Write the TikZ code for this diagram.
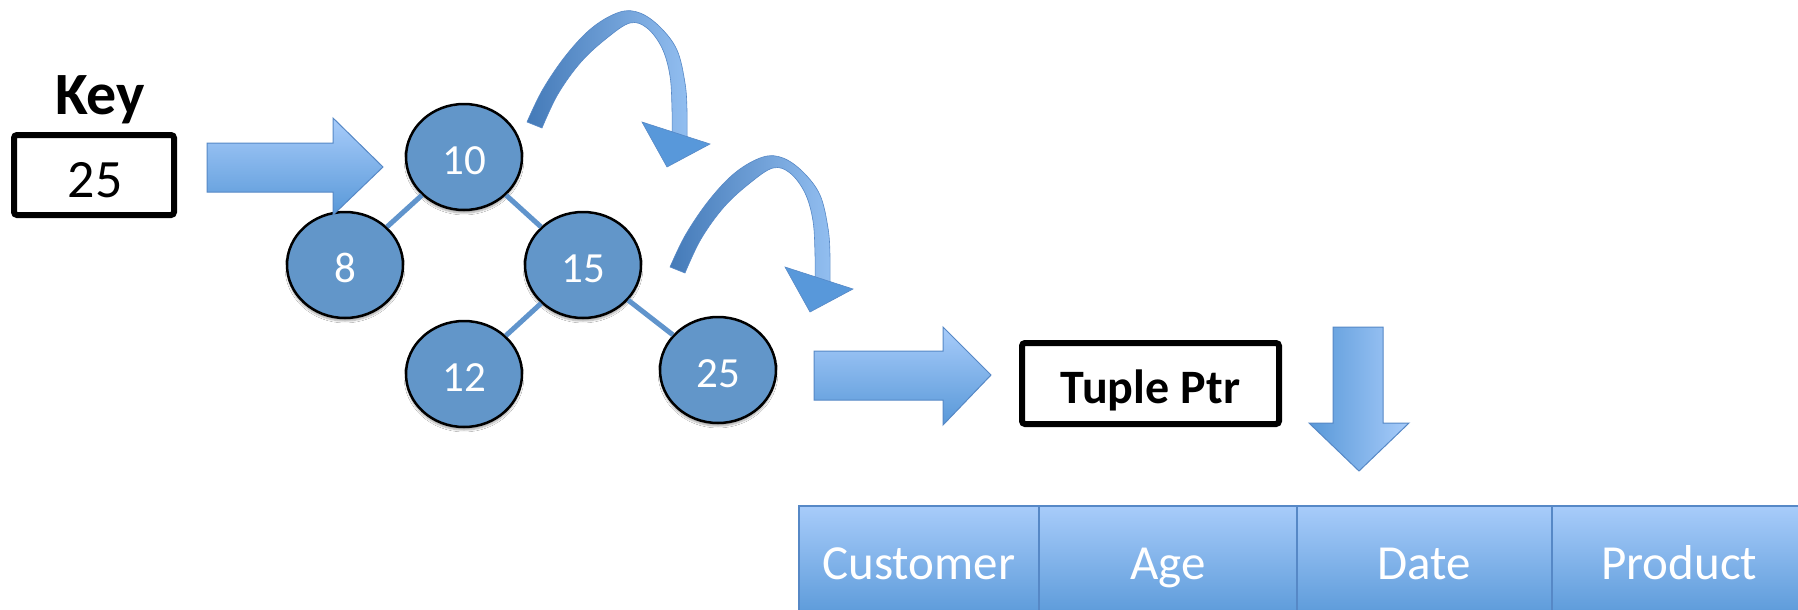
\documentclass[tikz,border=0pt]{standalone}
\usepackage{fontspec}
\setmainfont{Carlito}
\usetikzlibrary{shapes.geometric,shadows.blur}

\definecolor{nodeblue}{RGB}{98,150,201}
\definecolor{edgeblue}{RGB}{96,148,204}
\definecolor{lightblue}{RGB}{168,204,250}
\definecolor{darkblue}{RGB}{88,152,216}
\definecolor{rimblue}{RGB}{86,136,198}
\definecolor{hopdark}{RGB}{68,122,184}
\definecolor{hoplight}{RGB}{146,190,240}
\definecolor{hophead}{RGB}{88,152,218}

\tikzset{
  treenode/.style={ellipse, draw=black, line width=2.5, fill=nodeblue,
    minimum width=116, minimum height=106, inner sep=0, text=white,
    font=\fontsize{43}{43}\selectfont, text height=27, text depth=0,
    blur shadow={shadow xshift=0pt, shadow yshift=-3pt, shadow blur steps=6, shadow opacity=35}},
  treeedge/.style={draw=edgeblue, line width=5},
  framebox/.style={draw=black, line width=6, rounded corners=3, fill=white, inner sep=0},
  blockarrow/.style={draw=rimblue, line width=1},
  cell/.style={rectangle, draw=rimblue, line width=1.5, top color=lightblue,
    bottom color=darkblue, anchor=north west, minimum height=115, inner sep=0,
    text=white, font=\fontsize{49}{49}\selectfont, text height=31.5, text depth=0},
  hopbody/.style={left color=hopdark, right color=hoplight, draw=rimblue, line width=0.6},
  hophead/.style={fill=hophead, draw=rimblue, line width=0.6}
}

% tree keys sit a little below the middle of their ellipse
\newcommand\treekey[1]{\raisebox{-4pt}{#1}}

% curved "hop" arrow between neighbouring tree levels
\newcommand\hoparrow{%
  \path[hopbody]
    plot[smooth, tension=0.6] coordinates {(527,122) (543,89) (567,54) (593,27) (620,12) (640,13) (660,27) (677,50) (685,83) (687,110) (687,139)}
    -- plot[smooth, tension=0.6] coordinates {(672,133) (672,110) (670,76) (662,48) (647,28) (630,23) (607,38) (581,62) (558,94) (542,128)}
    -- cycle;
  \path[hophead] (642,122) -- (710,144) -- (667,167) -- cycle;
}

\begin{document}
\begin{tikzpicture}[x=1pt, y=-1pt]
\clip (0,0) rectangle (1798,610);
\fill[white] (0,0) rectangle (1798,610);

% search key
\node[font=\bfseries\fontsize{60}{60}\selectfont, anchor=base] (keylabel) at (100,114) {Key};
\node[framebox, minimum width=160, minimum height=80] (keybox) at (94,175) {};
\node[font=\fontsize{54}{54}\selectfont, anchor=base] (keyval) at ([xshift=1pt, yshift=-22pt]keybox.center) {25};

% binary search tree
\node[treenode] (n10) at (464,157) {\treekey{10}};
\node[treenode] (n8)  at (345,265) {\treekey{8}};
\node[treenode] (n15) at (583,265) {\treekey{15}};
\node[treenode] (n12) at (464,374) {\treekey{12}};
\node[treenode] (n25) at (718,370) {\treekey{25}};
\draw[treeedge] (n10) -- (n8);
\draw[treeedge] (n10) -- (n15);
\draw[treeedge] (n15) -- (n12);
\draw[treeedge] (n15) -- (n25);

% key enters the tree
\path[blockarrow, top color=lightblue, bottom color=darkblue]
  (207,143) -- (333,143) -- (333,118) -- (383,167) -- (333,215) -- (333,192) -- (207,192) -- cycle;

% traversal hops
\hoparrow
\begin{scope}[shift={(143,145)}]
  \hoparrow
\end{scope}

% found leaf points to the tuple
\path[blockarrow, top color=lightblue, bottom color=darkblue]
  (814,351) -- (943,351) -- (943,327) -- (991,375) -- (943,425) -- (943,400) -- (814,400) -- cycle;

\node[framebox, minimum width=257, minimum height=81] (tptr) at (1150.5,383.5) {};
\node[font=\bfseries\fontsize{48}{48}\selectfont, anchor=base] (tptrlabel) at ([yshift=-19.5pt]tptr.center) {Tuple Ptr};

\path[blockarrow, left color=darkblue, right color=lightblue]
  (1333,327) -- (1383,327) -- (1383,423) -- (1409,423) -- (1359,471) -- (1309,423) -- (1333,423) -- cycle;

% tuple record
\node[cell, minimum width=240] (c1) at (798,505) {Customer};
\node[cell, minimum width=258] (c2) at (1038,505) {Age};
\node[cell, minimum width=255] (c3) at (1296,505) {Date};
\node[cell, minimum width=255] (c4) at (1551,505) {Product};
\end{tikzpicture}
\end{document}
